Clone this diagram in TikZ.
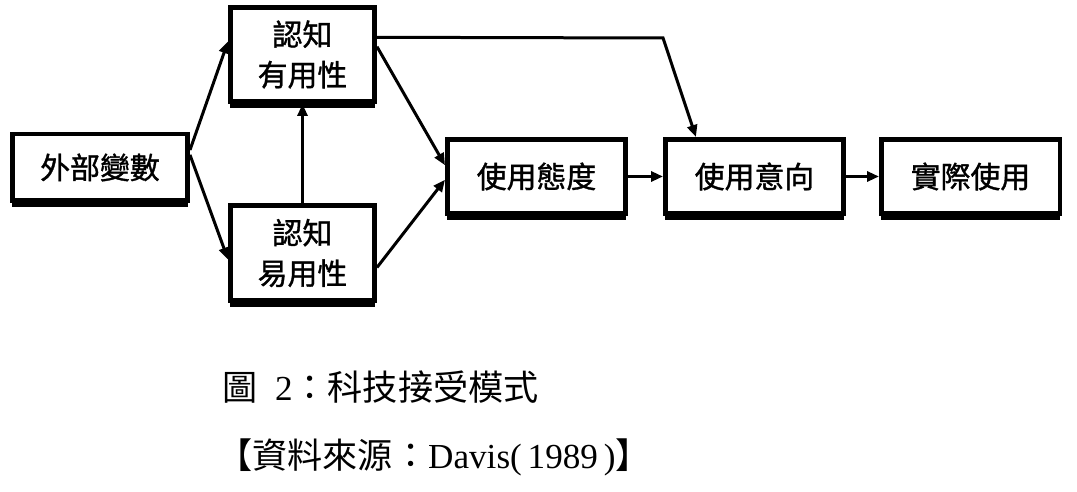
\documentclass[tikz,border=0pt]{standalone}
\usepackage{fontspec}
\setmainfont{Liberation Serif}
\newfontfamily\cjk{Noto Sans CJK TC}
\newfontfamily\cjkbox{Noto Sans CJK TC}[FakeBold=1.2]
\usetikzlibrary{arrows.meta,shadows}
\begin{document}
\begin{tikzpicture}[x=0.02cm,y=-0.02cm,
  box/.style={draw,line width=0.09cm,fill=white,inner sep=0pt,align=center,
    font=\cjkbox\fontsize{17}{23}\selectfont,
    drop shadow={shadow xshift=0cm,shadow yshift=-0.125cm,opacity=1,fill=black}},
  widebox/.style={box,minimum width=3.57cm,minimum height=1.49cm},
  link/.style={line width=0.06cm,-{Triangle[length=0.24cm,width=0.2cm]}},
  caption/.style={anchor=west,inner sep=0pt,font=\fontsize{20}{24}\selectfont}]
\useasboundingbox (0,0) rectangle (1077,492);
\node[box,minimum width=3.51cm,minimum height=1.33cm] (ext) at (100,167.5) {外部變數};
\node[box,minimum width=2.89cm,minimum height=1.89cm] (pu) at (302.5,54.5) {認知\\有用性};
\node[box,minimum width=2.89cm,minimum height=1.91cm] (peou) at (302.5,253) {認知\\易用性};
\node[widebox] (att) at (536.5,176.5) {使用態度};
\node[widebox] (bi) at (754.5,176.5) {使用意向};
\node[widebox] (use) at (970.5,176.5) {實際使用};
\coordinate (bend) at (663,38);
\draw[link] (ext.11) -- (pu.170);
\draw[link] (ext.8) -- (peou.185);
\draw[link] (peou.north) -- (pu.south);
\draw[link] (pu.6) -- (att.173);
\draw[link] (peou.349) -- (att.182);
\draw[link] (pu.13) -- (bend) -- (bi.146);
\draw[link] (att.east) -- (bi.west);
\draw[link] (bi.east) -- (use.west);
\node[caption] (title) at (222,387) {{\cjk 圖}\ \ 2{\cjk ：科技接受模式}};
\node[caption] (source) at (217,457) {{\cjk 【資料來源：}Davis(\,1989\,){\cjk 】}};
\end{tikzpicture}
\end{document}
